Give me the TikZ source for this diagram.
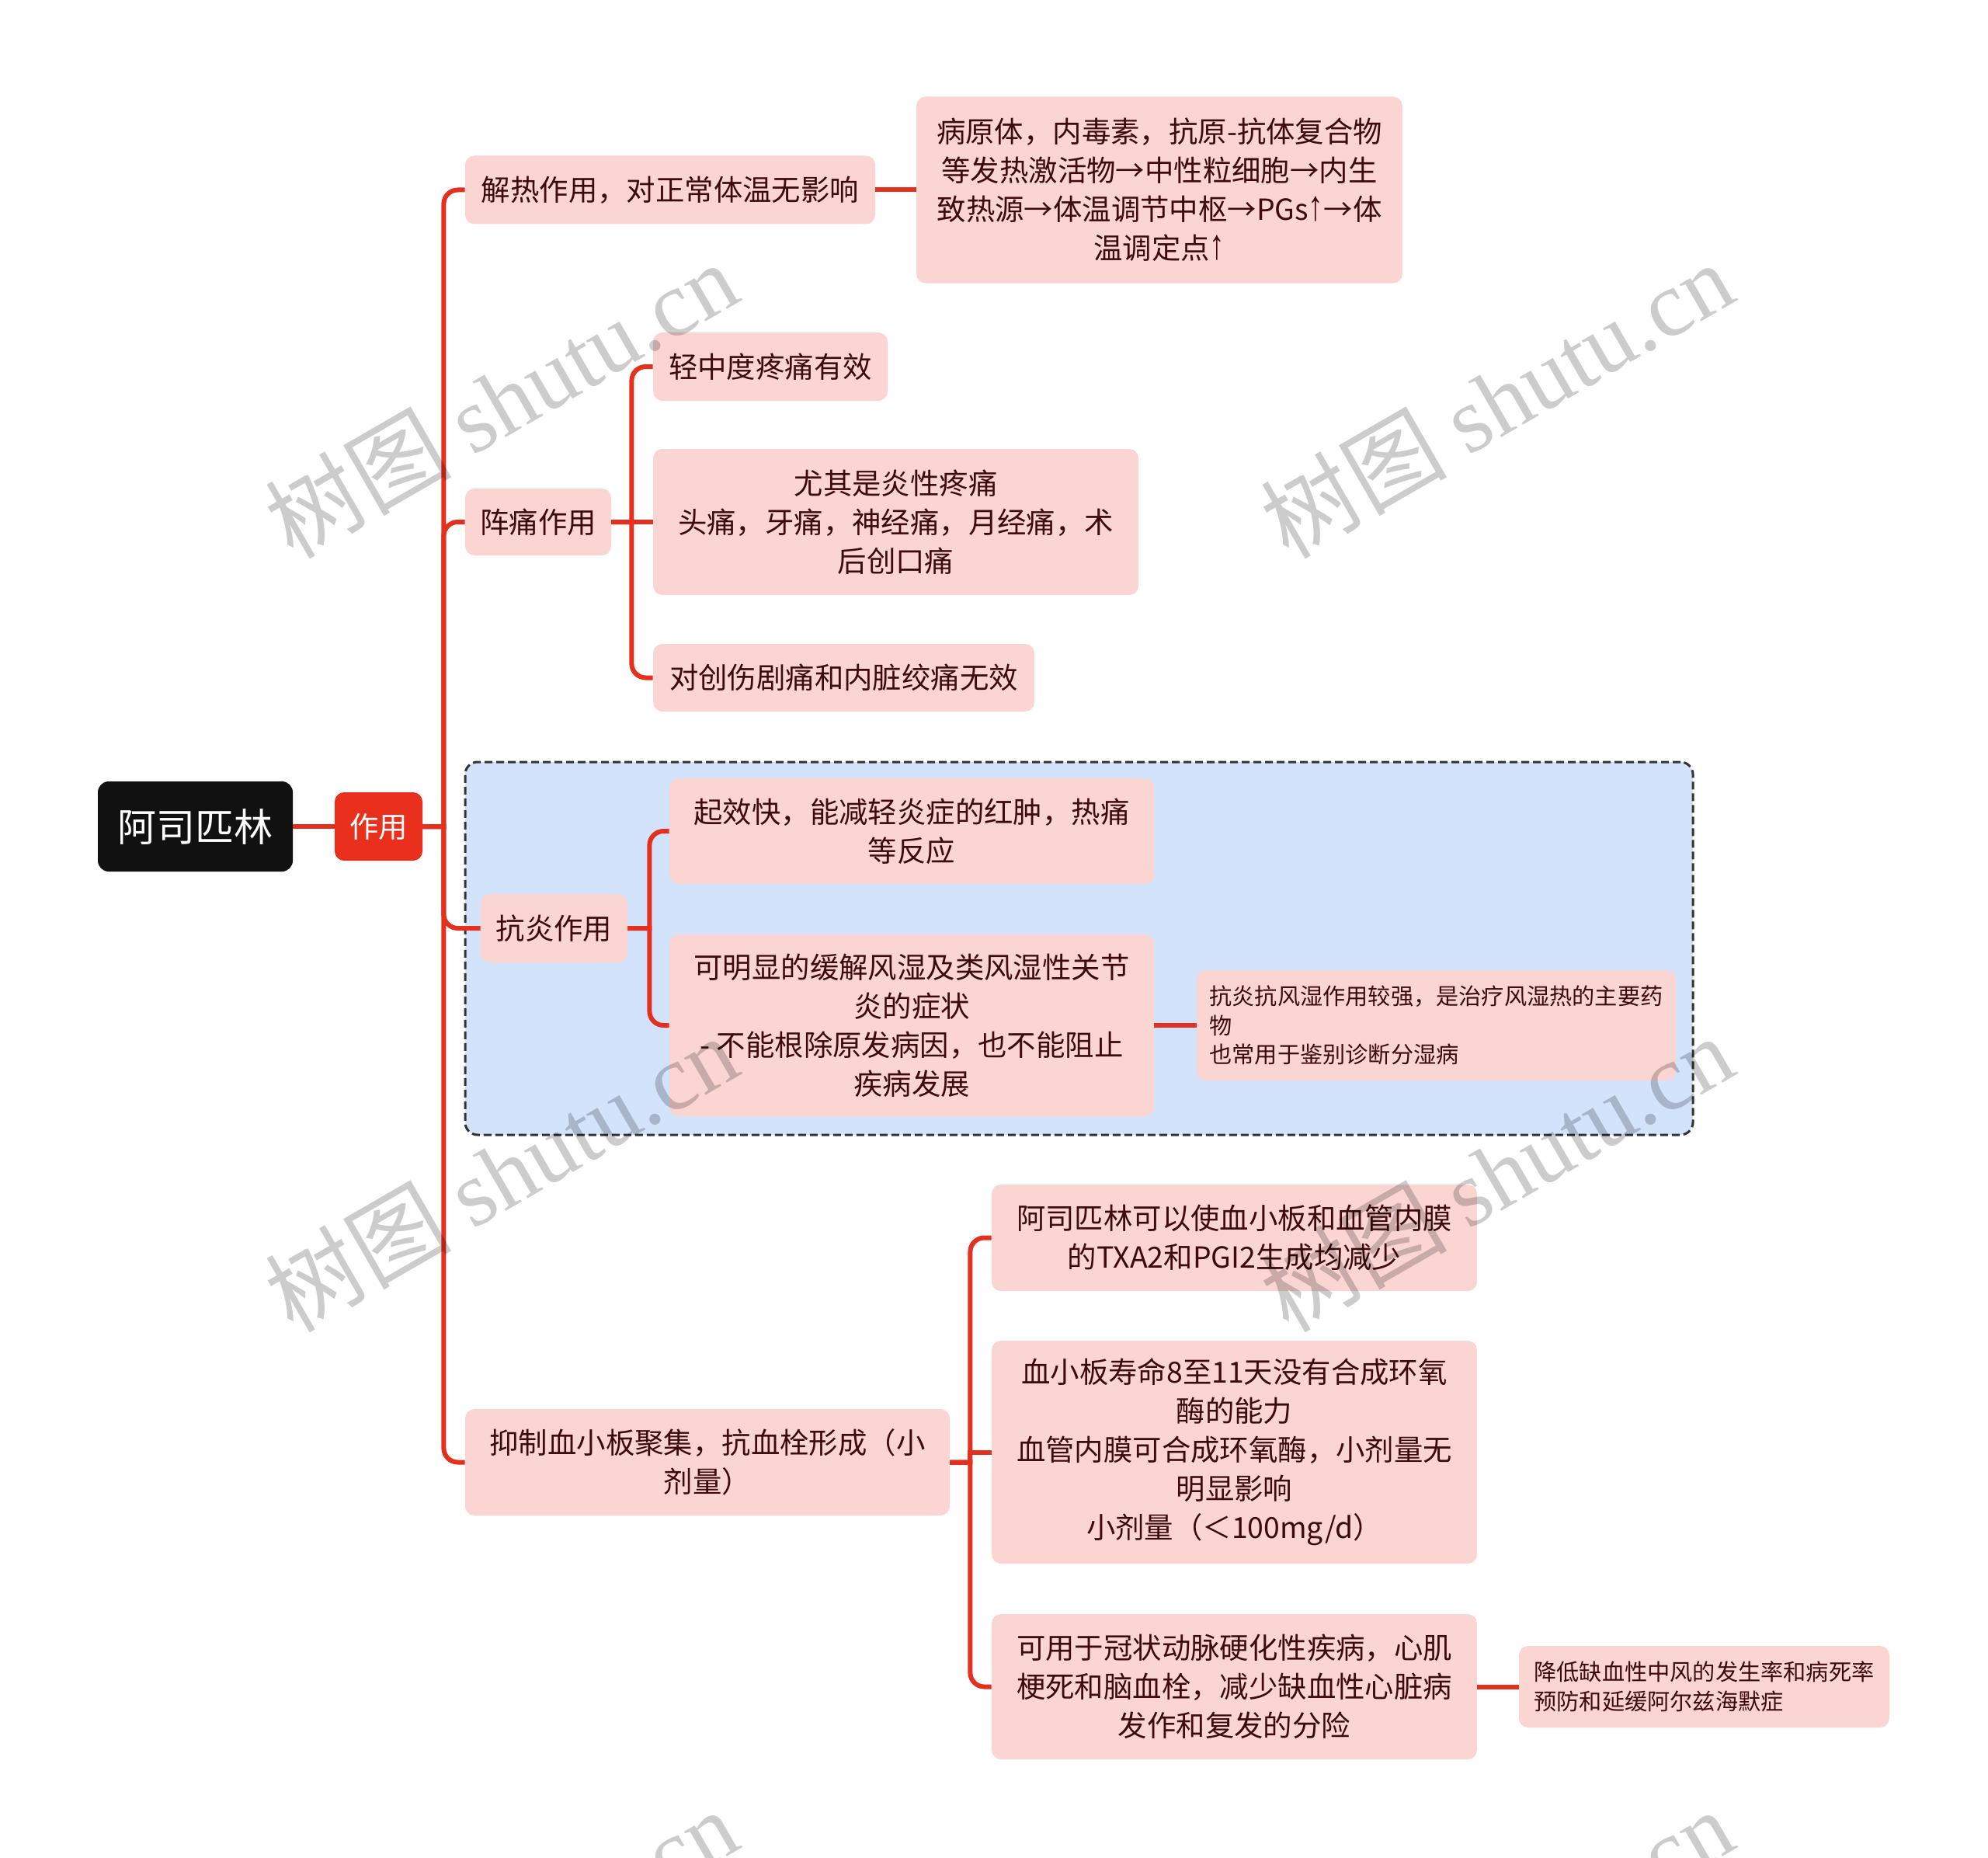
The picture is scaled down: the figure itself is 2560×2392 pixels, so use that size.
\documentclass[tikz,border=0pt]{standalone}
\usepackage{fontspec}
\setmainfont{Noto Sans CJK SC}
\newfontfamily\wmserif{Liberation Serif}
\newfontfamily\arrfont{Liberation Sans}
\newcommand{\uparr}{{\arrfont\scalebox{1.05}[1.45]{↑}}}
\definecolor{pinkfill}{HTML}{FBD5D2}
\definecolor{bluefill}{HTML}{D3E3FC}
\definecolor{linered}{HTML}{E3301F}
\definecolor{zyred}{HTML}{E8301C}
\definecolor{txt}{HTML}{3D0B0B}
\definecolor{rootblack}{HTML}{111111}
\definecolor{dashgray}{HTML}{333333}
\begin{document}
\begin{tikzpicture}[x=0.5pt,y=-0.5pt,
  box/.style={rectangle, rounded corners=6pt, fill=pinkfill, text=txt, align=center, inner sep=0pt, font=\fontsize{18.7}{25}\selectfont},
  smallbox/.style={box, align=left, font=\fontsize{14.6}{18.7}\selectfont},
  conn/.style={draw=linered, line width=3pt},
  dashbox/.style={rectangle, draw=dashgray, line width=1.5pt, dash pattern=on 5pt off 2.5pt, fill=bluefill, rounded corners=8pt, inner sep=0pt},
  wm/.style={rotate=30, text=black, text opacity=0.2, inner sep=0pt, font=\fontsize{60}{60}\selectfont}]
\useasboundingbox (0,0) rectangle (2560,2392);
\fill[white] (0,0) rectangle (2560,2392);

% group box
\node[dashbox, minimum width=790.5pt, minimum height=240pt] (grp) at (1389.5,1221) {};

% nodes
\node[box, fill=rootblack, text=white, rounded corners=7pt, minimum width=125.5pt, minimum height=58pt, font=\fontsize{25}{30}\selectfont] (root) at (251.5,1064) {阿司匹林};
\node[box, fill=zyred, text=white, minimum width=56.5pt, minimum height=44pt] (zy) at (487.5,1064) {作用};

\node[box, minimum width=264pt, minimum height=44pt] (jr) at (863,244.5) {解热作用，对正常体温无影响};
\node[box, minimum width=313pt, minimum height=120pt] (jrd) at (1493,244.5) {病原体，内毒素，抗原-抗体复合物\\等发热激活物→中性粒细胞→内生\\致热源→体温调节中枢→PGs\uparr→体\\温调定点\uparr};

\node[box, minimum width=94pt, minimum height=43pt] (zt) at (693,672) {阵痛作用};
\node[box, minimum width=151pt, minimum height=44pt] (zt1) at (992,472) {轻中度疼痛有效};
\node[box, minimum width=312.5pt, minimum height=94pt] (zt2) at (1153.5,672) {尤其是炎性疼痛\\头痛，牙痛，神经痛，月经痛，术\\后创口痛};
\node[box, minimum width=245.5pt, minimum height=43.5pt] (zt3) at (1086.5,872.5) {对创伤剧痛和内脏绞痛无效};

\node[box, minimum width=94.5pt, minimum height=44pt] (ky) at (713.5,1195) {抗炎作用};
\node[box, minimum width=312pt, minimum height=68pt] (ky1) at (1174,1070) {起效快，能减轻炎症的红肿，热痛\\等反应};
\node[box, minimum width=312pt, minimum height=117pt] (ky2) at (1174,1320) {可明显的缓解风湿及类风湿性关节\\炎的症状\\- 不能根除原发病因，也不能阻止\\疾病发展};
\node[smallbox, minimum width=308.5pt, minimum height=71pt] (ky3) at (1849.5,1320) {抗炎抗风湿作用较强，是治疗风湿热的主要药\\物\\也常用于鉴别诊断分湿病};

\node[box, minimum width=312pt, minimum height=68.5pt] (yz) at (911,1882.5) {抑制血小板聚集，抗血栓形成（小\\剂量）};
\node[box, minimum width=312.5pt, minimum height=68.5pt] (yz1) at (1589.5,1593.5) {阿司匹林可以使血小板和血管内膜\\的TXA2和PGI2生成均减少};
\node[box, minimum width=312.5pt, minimum height=143.5pt] (yz2) at (1589.5,1869.5) {血小板寿命8至11天没有合成环氧\\酶的能力\\血管内膜可合成环氧酶，小剂量无\\明显影响\\小剂量（＜100mg/d）};
\node[box, minimum width=312.5pt, minimum height=93.5pt] (yz3) at (1589.5,2171.5) {可用于冠状动脉硬化性疾病，心肌\\梗死和脑血栓，减少缺血性心脏病\\发作和复发的分险};
\node[smallbox, minimum width=238.5pt, minimum height=52.5pt] (yz4) at (2194.5,2171.5) {降低缺血性中风的发生率和病死率\\预防和延缓阿尔兹海默症};

% connectors (sharp at the junction, rounded at the child)
\draw[conn] (root.east) -- (zy.west);
\draw[conn] (zy.east) -- ++(27,0) [rounded corners=9pt] |- (jr.west);
\draw[conn] (zy.east) -- ++(27,0) [rounded corners=9pt] |- (zt.west);
\draw[conn] (zy.east) -- ++(27,0) [rounded corners=9pt] |- (ky.west);
\draw[conn] (zy.east) -- ++(27,0) [rounded corners=9pt] |- (yz.west);
\draw[conn] (jr.east) -- (jrd.west);
\draw[conn] (zt.east) -- ++(26,0) [rounded corners=9pt] |- (zt1.west);
\draw[conn] (zt.east) -- (zt2.west);
\draw[conn] (zt.east) -- ++(26,0) [rounded corners=9pt] |- (zt3.west);
\draw[conn] (ky.east) -- ++(28,0) [rounded corners=9pt] |- (ky1.west);
\draw[conn] (ky.east) -- ++(28,0) [rounded corners=9pt] |- (ky2.west);
\draw[conn] (ky2.east) -- (ky3.west);
\draw[conn] (yz.east) -- ++(26,0) [rounded corners=9pt] |- (yz1.west);
\draw[conn] (yz.east) -- ++(26,0) |- (yz2.west);
\draw[conn] (yz.east) -- ++(26,0) [rounded corners=9pt] |- (yz3.west);
\draw[conn] (yz3.east) -- (yz4.west);

% watermarks
\node[wm] (wm1) at (645,514) {树图 {\wmserif shutu.cn}};
\node[wm] (wm2) at (1927,514) {树图 {\wmserif shutu.cn}};
\node[wm] (wm3) at (645,1510) {树图 {\wmserif shutu.cn}};
\node[wm] (wm4) at (1927,1510) {树图 {\wmserif shutu.cn}};
\node[wm] (wm5) at (645,2506) {树图 {\wmserif shutu.cn}};
\node[wm] (wm6) at (1927,2506) {树图 {\wmserif shutu.cn}};
\end{tikzpicture}
\end{document}
